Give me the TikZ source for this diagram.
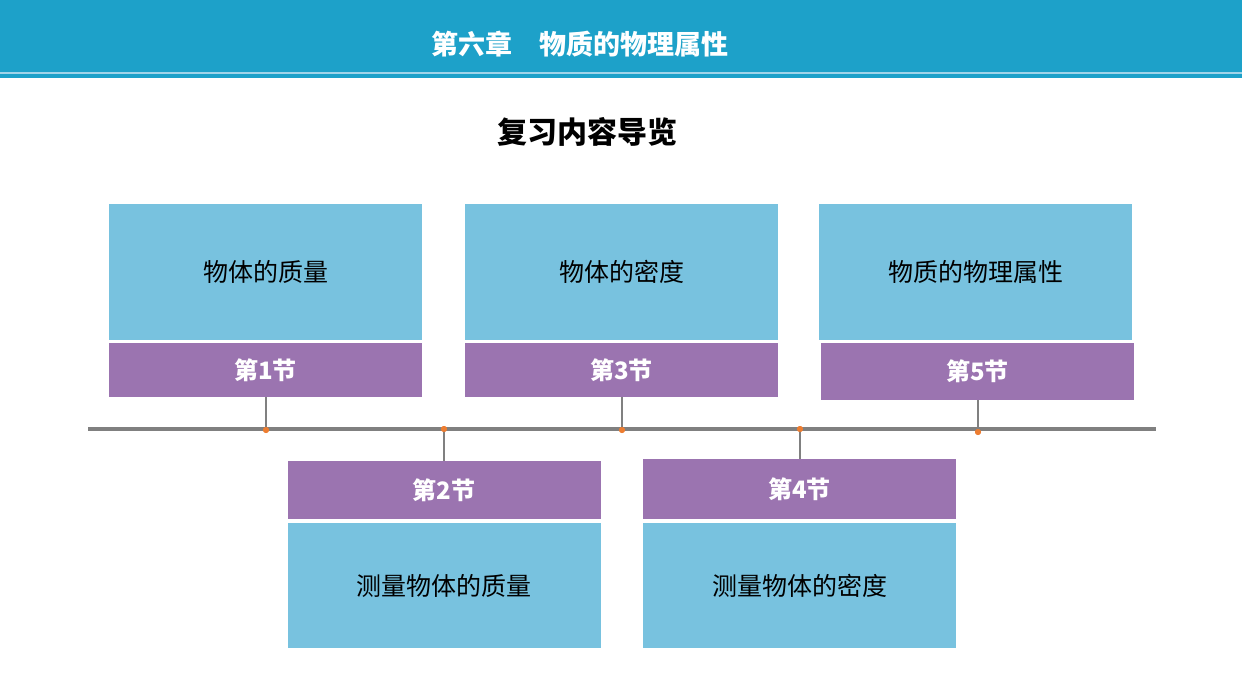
\documentclass[tikz,border=0pt]{standalone}
\usepackage{fontspec}
\setmainfont{Noto Sans CJK SC}
\definecolor{headblue}{RGB}{29,161,201}
\definecolor{boxblue}{RGB}{120,194,223}
\definecolor{boxpurple}{RGB}{155,116,176}
\definecolor{linegray}{RGB}{128,128,128}
\definecolor{dotorange}{RGB}{237,125,49}
\tikzset{
  topicbox/.style={fill=boxblue, draw=none, minimum width=313pt, inner sep=0pt, font=\fontsize{25pt}{25pt}\selectfont},
  sectbox/.style={fill=boxpurple, draw=none, minimum width=313pt, inner sep=0pt, text=white, font=\fontsize{24pt}{24pt}\selectfont\bfseries},
  stem/.style={linegray, line width=2pt},
  dot/.style={circle, fill=dotorange, inner sep=0pt, minimum size=6pt}
}
\begin{document}
\begin{tikzpicture}[x=1pt,y=-1pt]
\useasboundingbox (0,0) rectangle (1242,697);
% header band
\fill [headblue] (0,0) rectangle (1242,72);
\fill [boxblue!70] (0,72) rectangle (1242,74);
\fill [headblue] (0,74) rectangle (1242,78);
\node [text=white, font=\fontsize{27pt}{27pt}\selectfont\bfseries] (head) at (580,44) {第六章\quad 物质的物理属性};
\node [font=\fontsize{30pt}{30pt}\selectfont\bfseries] (title) at (587,132) {复习内容导览};
% time line
\draw [linegray, line width=4pt] (88,429) -- (1156,429);
% sections
\node [topicbox, minimum height=136pt] (t1) at (265.5,272) {物体的质量};
\node [sectbox, minimum height=54pt] (s1) at (265.5,370) {第1节};
\node [topicbox, minimum height=136pt] (t3) at (621.5,272) {物体的密度};
\node [sectbox, minimum height=54pt] (s3) at (621.5,370) {第3节};
\node [topicbox, minimum height=136pt] (t5) at (975.5,272) {物质的物理属性};
\node [sectbox, minimum height=57pt] (s5) at (977.5,371.5) {第5节};
\node [sectbox, minimum height=58pt] (s2) at (444,490) {第2节};
\node [topicbox, minimum height=125pt] (t2) at (444,585.5) {测量物体的质量};
\node [sectbox, minimum height=60pt] (s4) at (799.5,489) {第4节};
\node [topicbox, minimum height=125pt] (t4) at (799.5,585.5) {测量物体的密度};
\node [dot] (d1) at (266,430) {};
\node [dot] (d2) at (444,429) {};
\node [dot] (d3) at (622,430) {};
\node [dot] (d4) at (800,429) {};
\node [dot] (d5) at (978,432) {};
\draw [stem] (s1.south -| d1) -- (d1.center);
\draw [stem] (s2.north -| d2) -- (d2.center);
\draw [stem] (s3.south -| d3) -- (d3.center);
\draw [stem] (s4.north -| d4) -- (d4.center);
\draw [stem] (s5.south -| d5) -- (d5.center);
\foreach \d in {d1,d2,d3,d4,d5} \node [dot] at (\d) {};
\end{tikzpicture}
\end{document}
